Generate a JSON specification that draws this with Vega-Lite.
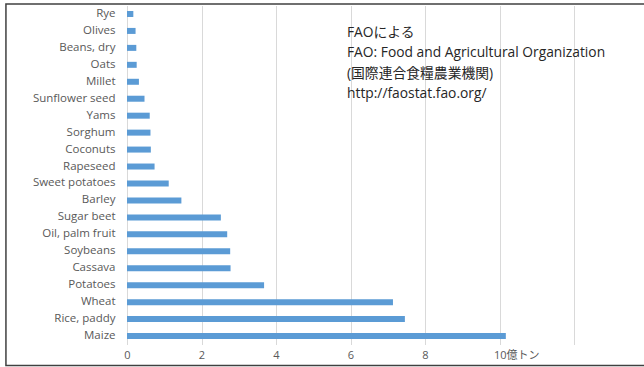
{
  "$schema": "https://vega.github.io/schema/vega-lite/v6.json",
  "autosize": {"type": "none"},
  "width": 447,
  "height": 339,
  "padding": {"left": 127, "top": 5.5, "right": 70, "bottom": 22.5},
  "background": "white",
  "config": {"view": {"stroke": null}},
  "datasets": {
    "crops": [
      {"crop": "Rye", "value": 0.17},
      {"crop": "Olives", "value": 0.23},
      {"crop": "Beans, dry", "value": 0.25},
      {"crop": "Oats", "value": 0.26},
      {"crop": "Millet", "value": 0.32},
      {"crop": "Sunflower seed", "value": 0.47},
      {"crop": "Yams", "value": 0.61},
      {"crop": "Sorghum", "value": 0.63},
      {"crop": "Coconuts", "value": 0.64},
      {"crop": "Rapeseed", "value": 0.74},
      {"crop": "Sweet potatoes", "value": 1.12},
      {"crop": "Barley", "value": 1.46},
      {"crop": "Sugar beet", "value": 2.52},
      {"crop": "Oil, palm fruit", "value": 2.69},
      {"crop": "Soybeans", "value": 2.77},
      {"crop": "Cassava", "value": 2.78},
      {"crop": "Potatoes", "value": 3.68},
      {"crop": "Wheat", "value": 7.14},
      {"crop": "Rice, paddy", "value": 7.46},
      {"crop": "Maize", "value": 10.17}
    ],
    "notes": [
      {"line": "FAOによる", "xv": 5.906, "yv": 1.62},
      {"line": "FAO: Food and Agricultural Organization", "xv": 5.906, "yv": 2.8},
      {"line": "(国際連合食糧農業機関)", "xv": 5.906, "yv": 4.04},
      {"line": "http://faostat.fao.org/", "xv": 5.906, "yv": 5.22}
    ],
    "frame": [
      {"x1": -3.25, "x2": 14.5, "y1": -0.09, "y2": 21.24}
    ]
  },
  "layer": [
    {
      "data": {"name": "crops"},
      "mark": {"type": "bar", "size": 6, "color": "#5B9BD5"},
      "encoding": {
        "y": {
          "field": "crop",
          "type": "nominal",
          "sort": ["Rye", "Olives", "Beans, dry", "Oats", "Millet", "Sunflower seed", "Yams", "Sorghum", "Coconuts", "Rapeseed", "Sweet potatoes", "Barley", "Sugar beet", "Oil, palm fruit", "Soybeans", "Cassava", "Potatoes", "Wheat", "Rice, paddy", "Maize"],
          "scale": {"padding": 0, "paddingInner": 0, "paddingOuter": 0},
          "axis": {
            "title": null,
            "domain": false,
            "ticks": false,
            "labelPadding": 12,
            "labelFont": "Open Sans",
            "labelFontSize": 11.5,
            "labelColor": "#595959"
          }
        },
        "x": {
          "field": "value",
          "type": "quantitative",
          "scale": {"domain": [0, 12], "nice": false, "zero": true},
          "axis": {
            "title": null,
            "values": [0, 2, 4, 6, 8, 10, 12],
            "domain": false,
            "ticks": false,
            "grid": true,
            "gridColor": "#D9D9D9",
            "gridWidth": 1,
            "labelPadding": 5,
            "labelFont": "Open Sans, Noto Sans CJK JP",
            "labelFontSize": 11,
            "labelColor": "#595959",
            "labelExpr": "datum.value == 12 ? '' : (datum.value == 10 ? '10億トン' : datum.label)",
            "labelAlign": {"condition": {"test": "datum.value == 10", "value": "left"}, "value": "center"},
            "labelOffset": {"condition": {"test": "datum.value == 10", "value": -6}, "value": 0}
          }
        }
      }
    },
    {
      "data": {"name": "notes"},
      "mark": {"type": "text", "align": "left", "baseline": "middle", "font": "Open Sans, Noto Sans CJK JP", "fontSize": 13.8, "color": "#262626"},
      "encoding": {
        "x": {"field": "xv", "type": "quantitative"},
        "y": {"field": "yv", "type": "quantitative", "scale": {"domain": [0, 20], "reverse": true, "nice": false, "zero": false}, "axis": null},
        "text": {"field": "line"}
      }
    },
    {
      "data": {"name": "frame"},
      "mark": {"type": "rect", "fill": null, "fillOpacity": 0, "stroke": "#404040", "strokeWidth": 1.5},
      "encoding": {
        "x": {"field": "x1", "type": "quantitative"},
        "x2": {"field": "x2"},
        "y": {"field": "y1", "type": "quantitative", "scale": {"domain": [0, 20], "reverse": true, "nice": false, "zero": false}, "axis": null},
        "y2": {"field": "y2"}
      }
    }
  ],
  "resolve": {"scale": {"y": "independent"}, "axis": {"y": "independent"}}
}
